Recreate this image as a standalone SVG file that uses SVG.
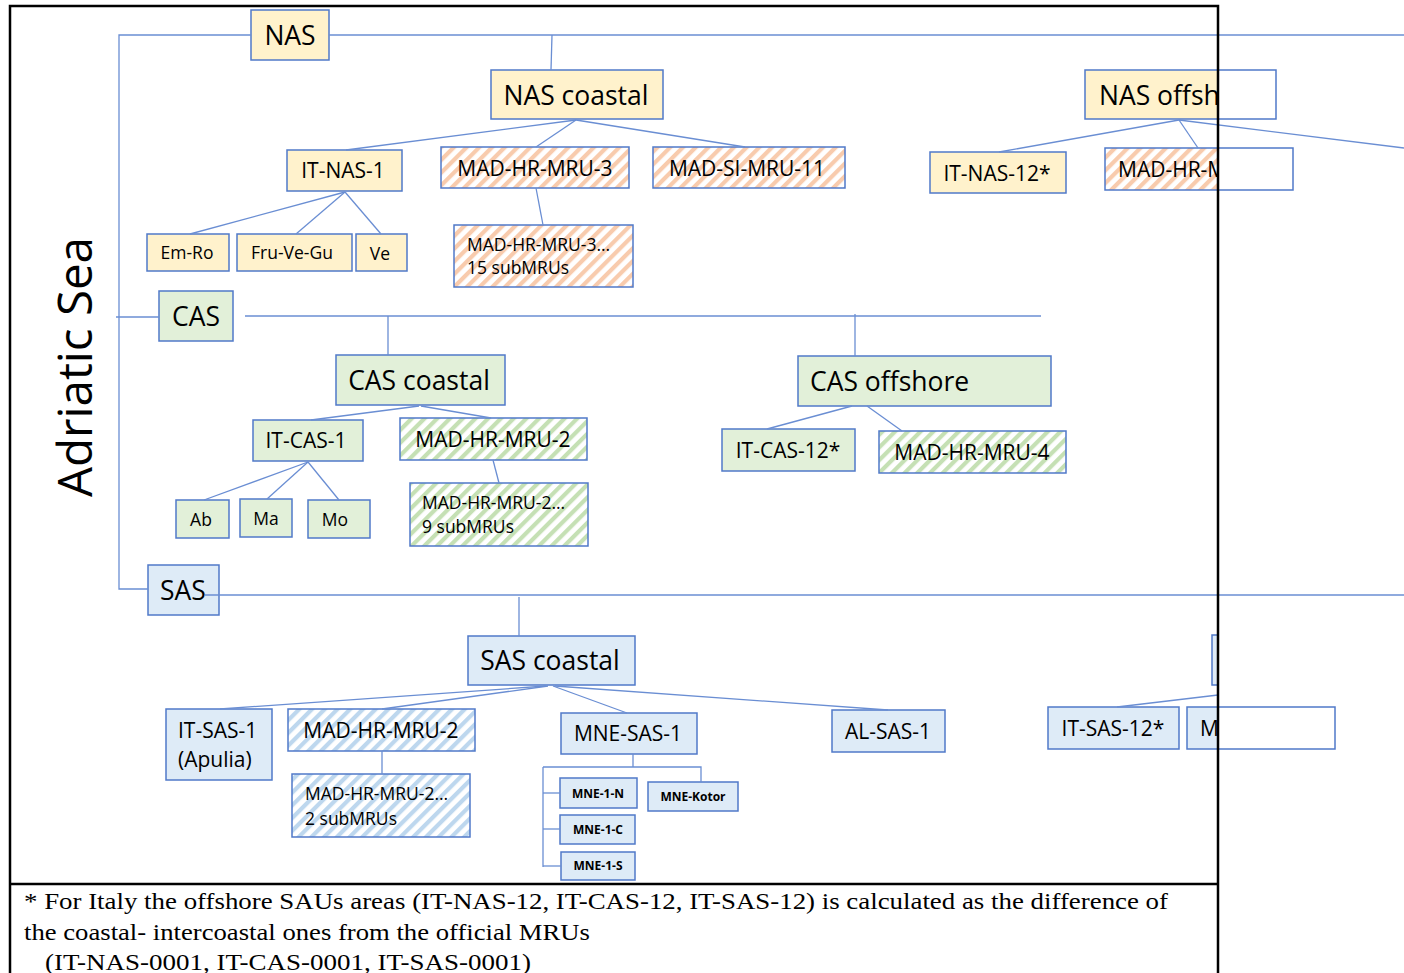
<svg xmlns="http://www.w3.org/2000/svg" width="1404" height="973" viewBox="0 0 1404 973">
<defs>
<clipPath id="cf"><rect x="0" y="0" width="1218" height="973"/></clipPath>
<pattern id="hO" width="9" height="9" patternUnits="userSpaceOnUse" patternTransform="rotate(45)"><rect width="9" height="9" fill="#fff"/><rect width="4.2" height="9" fill="#F8CBAD"/></pattern>
<pattern id="hG" width="9" height="9" patternUnits="userSpaceOnUse" patternTransform="rotate(45)"><rect width="9" height="9" fill="#fff"/><rect width="4.2" height="9" fill="#C5E0B4"/></pattern>
<pattern id="hB" width="9" height="9" patternUnits="userSpaceOnUse" patternTransform="rotate(45)"><rect width="9" height="9" fill="#fff"/><rect width="4.2" height="9" fill="#BDD7EE"/></pattern>
</defs>
<style>
.b{stroke:#5079C9;stroke-width:1.5}
.s{fill:none;stroke:#5079C9;stroke-width:1.5}
.y{fill:#FFF2CC}.g{fill:#E2F0D9}.u{fill:#DEEBF7}
.ho{fill:url(#hO)}.hg{fill:url(#hG)}.hb{fill:url(#hB)}
text{font-family:"Open Sans","DejaVu Sans",sans-serif;fill:#000}
.c{text-anchor:middle}
.f26{font-size:26.5px}.f21{font-size:21px}.f18{font-size:17.5px}
.bd{font-size:12px;font-weight:bold}
.cn line,.cn polyline{stroke:#6A8ED3;stroke-width:1.3;fill:none}
.ft{font-family:"Liberation Serif","Times New Roman",serif;font-size:23px}
</style>
<rect width="1404" height="973" fill="#fff"/>

<g id="nodes">
<g id="n-nas"><rect x="251" y="10" width="78" height="50" class="y b"/><text x="290" y="45" class="c f26">NAS</text></g>
<g id="n-nas-coastal"><rect x="491" y="70" width="172" height="49" class="y b"/><text x="576" y="105" class="c f26">NAS coastal</text></g>
<g id="n-nas-offshore"><g clip-path="url(#cf)"><rect x="1085" y="70" width="191" height="49" class="y"/><text x="1099" y="105" class="f26">NAS offsh</text></g><rect x="1085" y="70" width="191" height="49" class="s"/></g>
<g id="n-it-nas-1"><rect x="287" y="150" width="115" height="41" class="y b"/><text x="343" y="178" class="c f21">IT-NAS-1</text></g>
<g id="n-mad-hr-mru-3"><rect x="441" y="147" width="188" height="41" class="ho b"/><text x="535" y="176" class="c f21">MAD-HR-MRU-3</text></g>
<g id="n-mad-si-mru-11"><rect x="653" y="147" width="192" height="41" class="ho b"/><text x="747" y="176" class="c f21">MAD-SI-MRU-11</text></g>
<g id="n-it-nas-12"><rect x="930" y="152" width="136" height="41" class="y b"/><text x="997" y="181" class="c f21">IT-NAS-12*</text></g>
<g id="n-mad-hr-m"><g clip-path="url(#cf)"><rect x="1105" y="148" width="188" height="42" class="ho"/><text x="1118" y="177" class="f21">MAD-HR-M</text></g><rect x="1105" y="148" width="188" height="42" class="s"/></g>
<g id="n-em-ro"><rect x="147" y="234" width="82" height="37" class="y b"/><text x="187" y="259" class="c f18">Em-Ro</text></g>
<g id="n-fru-ve-gu"><rect x="237" y="234" width="115" height="37" class="y b"/><text x="292" y="259" class="c f18">Fru-Ve-Gu</text></g>
<g id="n-ve"><rect x="356" y="234" width="51" height="37" class="y b"/><text x="380" y="260" class="c f18">Ve</text></g>
<g id="n-mru3-sub"><rect x="454" y="225" width="179" height="62" class="ho b"/><text x="467" y="251" class="f18">MAD-HR-MRU-3…</text><text x="467" y="274" class="f18">15 subMRUs</text></g>

<g id="n-cas"><rect x="159" y="291" width="74" height="50" class="g b"/><text x="196" y="326" class="c f26">CAS</text></g>
<g id="n-cas-coastal"><rect x="336" y="355" width="169" height="50" class="g b"/><text x="419" y="390" class="c f26">CAS coastal</text></g>
<g id="n-cas-offshore"><rect x="798" y="356" width="253" height="50" class="g b"/><text x="810" y="391" class="f26">CAS offshore</text></g>
<g id="n-it-cas-1"><rect x="253" y="420" width="110" height="41" class="g b"/><text x="306" y="448" class="c f21">IT-CAS-1</text></g>
<g id="n-mad-hr-mru-2-c"><rect x="400" y="418" width="187" height="42" class="hg b"/><text x="493" y="447" class="c f21">MAD-HR-MRU-2</text></g>
<g id="n-it-cas-12"><rect x="722" y="429" width="133" height="42" class="g b"/><text x="788" y="458" class="c f21">IT-CAS-12*</text></g>
<g id="n-mad-hr-mru-4"><rect x="879" y="431" width="187" height="42" class="hg b"/><text x="972" y="460" class="c f21">MAD-HR-MRU-4</text></g>
<g id="n-mru2-sub9"><rect x="410" y="483" width="178" height="63" class="hg b"/><text x="422" y="509" class="f18">MAD-HR-MRU-2…</text><text x="422" y="533" class="f18">9 subMRUs</text></g>
<g id="n-ab"><rect x="176" y="500" width="53" height="38" class="g b"/><text x="201" y="526" class="c f18">Ab</text></g>
<g id="n-ma"><rect x="240" y="499" width="52" height="38" class="g b"/><text x="266" y="525" class="c f18">Ma</text></g>
<g id="n-mo"><rect x="308" y="500" width="62" height="38" class="g b"/><text x="335" y="526" class="c f18">Mo</text></g>

<g id="n-sas"><rect x="148" y="565" width="71" height="50" class="u b"/><text x="183" y="600" class="c f26">SAS</text></g>
<g id="n-sas-coastal"><rect x="468" y="636" width="167" height="49" class="u b"/><text x="550" y="670" class="c f26">SAS coastal</text></g>
<g id="n-sas-offshore" clip-path="url(#cf)"><rect x="1212" y="635" width="60" height="50" class="u b"/></g>
<g id="n-it-sas-1"><rect x="166" y="709" width="106" height="71" class="u b"/><text x="178" y="738" class="f21">IT-SAS-1</text><text x="178" y="767" class="f21">(Apulia)</text></g>
<g id="n-mad-hr-mru-2-s"><rect x="288" y="709" width="187" height="42" class="hb b"/><text x="381" y="738" class="c f21">MAD-HR-MRU-2</text></g>
<g id="n-mne-sas-1"><rect x="561" y="713" width="136" height="41" class="u b"/><text x="628" y="741" class="c f21">MNE-SAS-1</text></g>
<g id="n-al-sas-1"><rect x="832" y="710" width="113" height="42" class="u b"/><text x="888" y="739" class="c f21">AL-SAS-1</text></g>
<g id="n-it-sas-12"><rect x="1048" y="707" width="131" height="42" class="u b"/><text x="1113" y="736" class="c f21">IT-SAS-12*</text></g>
<g id="n-m"><g clip-path="url(#cf)"><rect x="1187" y="707" width="148" height="42" class="u"/><text x="1200" y="736" class="f21">M</text></g><rect x="1187" y="707" width="148" height="42" class="s"/></g>
<g id="n-mru2-sub2"><rect x="292" y="774" width="178" height="63" class="hb b"/><text x="305" y="800" class="f18">MAD-HR-MRU-2…</text><text x="305" y="825" class="f18">2 subMRUs</text></g>
<g id="n-mne-1-n"><rect x="560" y="778" width="77" height="30" class="u b"/><text x="598" y="798" class="c bd">MNE-1-N</text></g>
<g id="n-mne-kotor"><rect x="648" y="782" width="90" height="29" class="u b"/><text x="693" y="801" class="c bd">MNE-Kotor</text></g>
<g id="n-mne-1-c"><rect x="560" y="815" width="75" height="29" class="u b"/><text x="598" y="834" class="c bd">MNE-1-C</text></g>
<g id="n-mne-1-s"><rect x="561" y="852" width="74" height="28" class="u b"/><text x="598" y="870" class="c bd">MNE-1-S</text></g>
</g>

<g id="connectors" class="cn">
<polyline points="251,35 119,35 119,589 148,589"/>
<line x1="329" y1="35" x2="1404" y2="35"/>
<line x1="552" y1="35" x2="551" y2="70"/>
<line x1="116" y1="317" x2="159" y2="317"/>
<line x1="245" y1="316" x2="1041" y2="316"/>
<line x1="388" y1="316" x2="388" y2="355"/>
<line x1="855" y1="314" x2="855" y2="356"/>
<line x1="205" y1="595" x2="1404" y2="595"/>
<line x1="519" y1="597" x2="519" y2="636"/>
<line x1="576" y1="120" x2="346" y2="150"/>
<line x1="576" y1="120" x2="536" y2="147"/>
<line x1="576" y1="120" x2="745" y2="147"/>
<line x1="345" y1="192" x2="190" y2="234"/>
<line x1="345" y1="192" x2="296" y2="234"/>
<line x1="345" y1="192" x2="381" y2="234"/>
<line x1="536" y1="188" x2="543" y2="225"/>
<line x1="1179" y1="120" x2="999" y2="152"/>
<line x1="1179" y1="120" x2="1198" y2="148"/>
<line x1="1179" y1="120" x2="1404" y2="148"/>
<line x1="419" y1="406" x2="311" y2="420"/>
<line x1="421" y1="406" x2="491" y2="418"/>
<line x1="493" y1="460" x2="499" y2="483"/>
<line x1="308" y1="462" x2="204" y2="500"/>
<line x1="308" y1="462" x2="267" y2="499"/>
<line x1="308" y1="462" x2="339" y2="500"/>
<line x1="852" y1="406" x2="767" y2="429"/>
<line x1="867" y1="406" x2="902" y2="431"/>
<line x1="546" y1="686" x2="220" y2="709"/>
<line x1="548" y1="686" x2="382" y2="709"/>
<line x1="553" y1="686" x2="627" y2="713"/>
<line x1="555" y1="686" x2="888" y2="710"/>
<line x1="382" y1="751" x2="382" y2="774"/>
<line x1="633" y1="754" x2="633" y2="767"/>
<polyline points="543,767 701,767 701,782"/>
<line x1="543" y1="767" x2="543" y2="867"/>
<line x1="543" y1="793" x2="560" y2="793"/>
<line x1="543" y1="829" x2="560" y2="829"/>
<line x1="543" y1="866" x2="561" y2="866"/>
<line x1="1218" y1="695" x2="1117" y2="707"/>
</g>

<g id="frame">
<path d="M10 973 V6 H1218 V973 M10 884 H1218" fill="none" stroke="#000" stroke-width="2.5"/>
</g>

<text id="title" transform="translate(92,497) rotate(-90)" font-size="48" textLength="260" lengthAdjust="spacingAndGlyphs">Adriatic Sea</text>

<g id="footnote">
<text x="24" y="909" class="ft" textLength="1144" lengthAdjust="spacingAndGlyphs">* For Italy the offshore SAUs areas (IT-NAS-12, IT-CAS-12, IT-SAS-12) is calculated as the difference of</text>
<text x="24" y="940" class="ft" textLength="566" lengthAdjust="spacingAndGlyphs">the coastal- intercoastal ones from the official MRUs</text>
<text x="45" y="970" class="ft" textLength="486" lengthAdjust="spacingAndGlyphs">(IT-NAS-0001, IT-CAS-0001, IT-SAS-0001)</text>
</g>
</svg>
